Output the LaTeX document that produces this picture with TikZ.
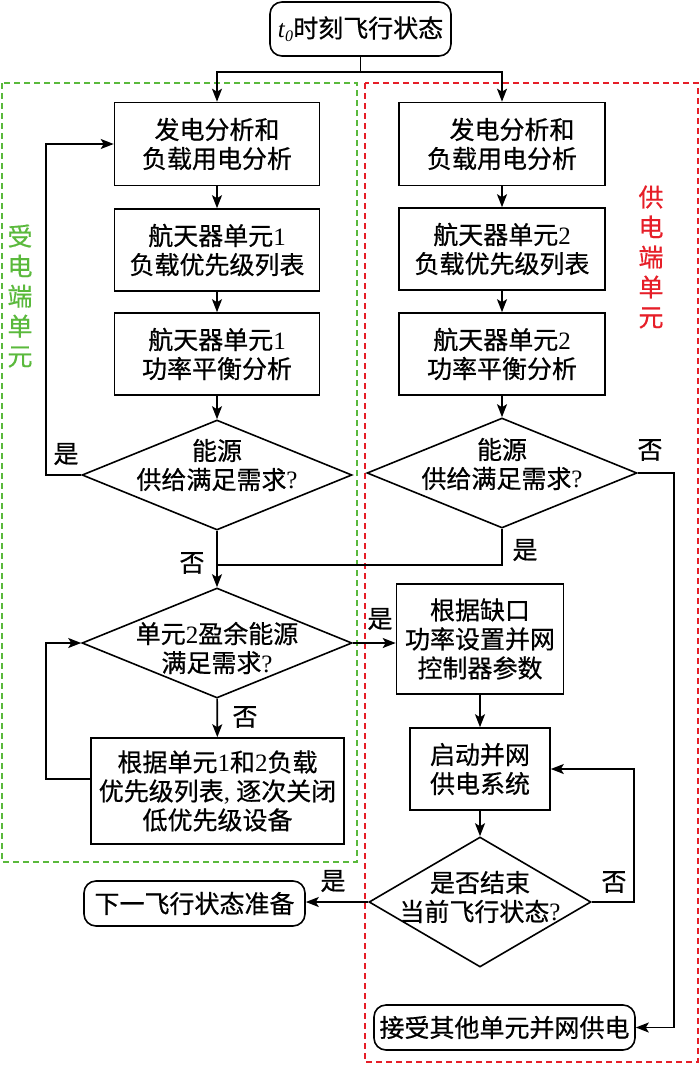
\documentclass[tikz,border=0pt]{standalone}
\usepackage{fontspec}
\setmainfont{Liberation Serif}
\newfontfamily\cjk{Noto Sans CJK SC}[FakeBold=0.6]
\usetikzlibrary{shapes.geometric,arrows.meta}
\definecolor{grn}{RGB}{90,185,60}
\definecolor{rd}{RGB}{230,30,40}
\newcommand{\C}[1]{{\cjk #1}}
\begin{document}
\begin{tikzpicture}[x=1pt,y=-1pt,
 txt/.style={font=\fontsize{25}{29}\selectfont, align=center, inner sep=0pt},
 box/.style={txt, draw, line width=1.6pt},
 rbox/.style={box, rounded corners=12pt},
 dia/.style={draw, diamond, line width=1.6pt, inner sep=0pt},
 arr/.style={line width=1.6pt, -{Stealth[length=13pt,width=10pt,inset=3pt]}},
 ln/.style={line width=1.6pt},
 frame/.style={line width=1.3pt, dash pattern=on 6pt off 4pt},
 vlab/.style={font=\fontsize{25}{30}\selectfont, align=center, inner sep=0pt}]
\useasboundingbox (0,0) rectangle (700,1065);

% frames
\draw[frame, grn] (2,83) rectangle (357,862);
\draw[frame, rd] (365,83) rectangle (698,1062);
\node[vlab, text=grn] (gl) at (20,296) {\C{受}\\\C{电}\\\C{端}\\\C{单}\\\C{元}};
\node[vlab, text=rd] (rl) at (651,257) {\C{供}\\\C{电}\\\C{端}\\\C{单}\\\C{元}};

% nodes
\node[rbox, minimum width=181pt, minimum height=54pt] (top) at (360.5,29)
 {\textit{t}\raisebox{-0.35ex}{\fontsize{16}{16}\selectfont\textit{0}}\C{时刻飞行状态}};

\node[box, minimum width=205pt, minimum height=83pt] (L1) at (217,144) {\C{发电分析和}\\\C{负载用电分析}};
\node[box, minimum width=205pt, minimum height=82pt] (L2) at (217,250) {\C{航天器单元}1\\\C{负载优先级列表}};
\node[box, minimum width=205pt, minimum height=82pt] (L3) at (217,354) {\C{航天器单元}1\\\C{功率平衡分析}};

\node[box, minimum width=206pt, minimum height=83pt] (R1) at (502,144) {\hspace*{20pt}\C{发电分析和}\\\C{负载用电分析}};
\node[box, minimum width=206pt, minimum height=82pt] (R2) at (502,249) {\C{航天器单元}2\\\C{负载优先级列表}};
\node[box, minimum width=206pt, minimum height=82pt] (R3) at (502,354) {\C{航天器单元}2\\\C{功率平衡分析}};

\node[dia, minimum width=270pt, minimum height=110pt] (D1) at (217,475) {};
\node[txt] (D1t) at (217,465) {\C{能源}\\\C{供给满足需求}?};
\node[dia, minimum width=270pt, minimum height=110pt] (D1R) at (502,473) {};
\node[txt] (D1Rt) at (502,464) {\C{能源}\\\C{供给满足需求}?};

\node[dia, minimum width=270pt, minimum height=110pt] (D2) at (217,643) {};
\node[txt] (D2t) at (217,648) {\C{单元}2\C{盈余能源}\\\C{满足需求}?};

\node[box, minimum width=167pt, minimum height=110pt] (G) at (480,639) {\C{根据缺口}\\\C{功率设置并网}\\\C{控制器参数}};
\node[box, minimum width=140pt, minimum height=82pt] (S) at (480,769) {\C{启动并网}\\\C{供电系统}};
\node[dia, minimum width=222pt, minimum height=130pt] (D3) at (480,902) {};
\node[txt] (D3t) at (480,897) {\C{是否结束}\\\C{当前飞行状态}?};

\node[box, minimum width=253pt, minimum height=106pt] (L4) at (217.5,791)
 {\C{根据单元}1\C{和}2\C{负载}\\\C{优先级列表}, \C{逐次关闭}\\\C{低优先级设备}};
\node[rbox, minimum width=221pt, minimum height=45pt] (N) at (194.5,903.5) {\C{下一飞行状态准备}};
\node[rbox, minimum width=261pt, minimum height=45pt] (A) at (504.5,1027.5) {\C{接受其他单元并网供电}};

% connectors
\coordinate (sp) at (360.5,72);
\draw[ln] (top) -- (sp);
\draw[arr] (sp) -| (L1);
\draw[arr] (sp) -| (R1);
\draw[arr] (L1) -- (L2);
\draw[arr] (L2) -- (L3);
\draw[arr] (L3) -- (D1);
\draw[arr] (R1) -- (R2);
\draw[arr] (R2) -- (R3);
\draw[arr] (R3) -- (D1R);

\draw[arr] (D1.west) -- ++(-35,0) |- (L1.west);
\node[txt] (y1) at (66,454) {\C{是}};
\draw[arr] (D1) -- (D2);
\node[txt] (n1) at (192,563) {\C{否}};
\coordinate (j) at (217,565);
\draw[ln] (D1R.south) |- (j);
\node[txt] (y2) at (525,550) {\C{是}};
\draw[arr] (D1R.east) -- (674,473) |- (A.east);
\node[txt] (n2) at (650,450) {\C{否}};

\draw[arr] (D2.east) -- (D2.east -| G.west);
\node[txt] (y3) at (380,619) {\C{是}};
\draw[arr] (D2) -- (L4);
\node[txt] (n3) at (245,717) {\C{否}};
\draw[arr] ([yshift=12pt]L4.west) -- ++(-44,0) |- (D2.west);

\draw[arr] (G) -- (S);
\draw[arr] (S) -- (D3);
\draw[arr] (D3.east) -- (634,902) |- (S.east);
\node[txt] (n4) at (614,882) {\C{否}};
\draw[arr] (D3.west) -- (D3.west -| N.east);
\node[txt] (y4) at (333,881) {\C{是}};
\end{tikzpicture}
\end{document}
